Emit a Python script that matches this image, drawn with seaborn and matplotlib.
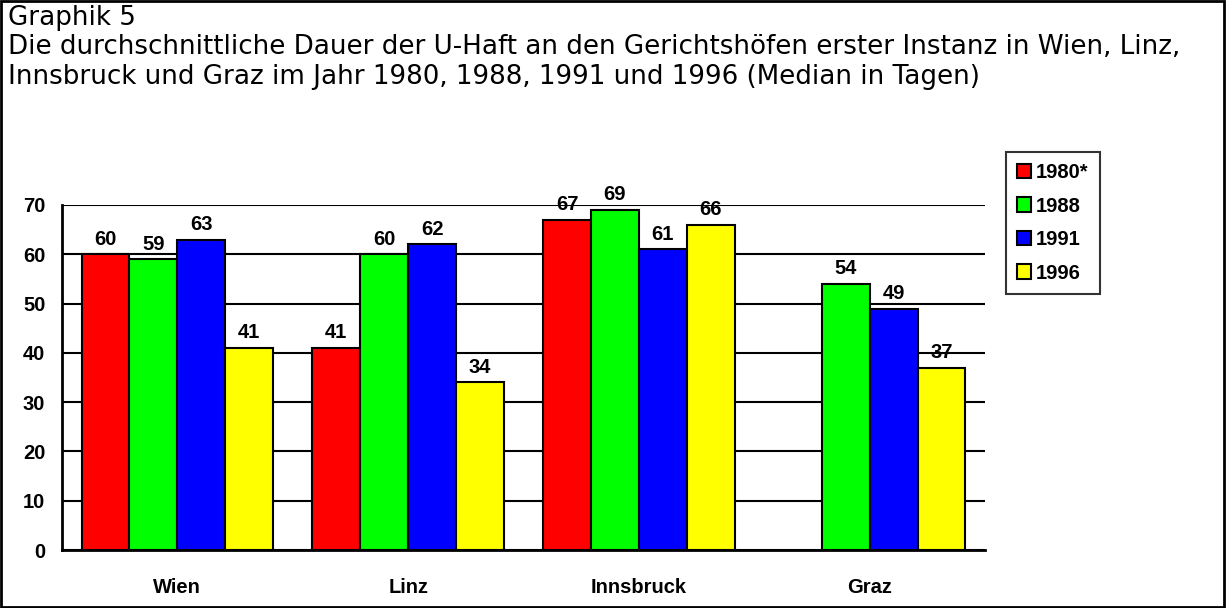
import numpy as np
import pandas as pd
import seaborn as sns
from matplotlib import pyplot as plt
from matplotlib.patches import Rectangle
from matplotlib.ticker import FixedLocator

sns.set_style("white", rc={"text.color": "black", "xtick.color": "black",
                           "ytick.color": "black", "axes.labelcolor": "black"})
plt.rcParams['font.family'] = ['Liberation Sans', 'DejaVu Sans']

# Daten aus der Graphik
orte = ["Wien", "Linz", "Innsbruck", "Graz"]
jahre = ["1980*", "1988", "1991", "1996"]
w1980 = [60, 41, 67, np.nan]
w1988 = [59, 60, 69, 54]
w1991 = [63, 62, 61, 49]
w1996 = [41, 34, 66, 37]
farben = ["#ff0000", "#00ff00", "#0000ff", "#ffff00"]

df = pd.DataFrame({
    "Ort": orte * 4,
    "Jahr": [j for j in jahre for _ in orte],
    "Tage": w1980 + w1988 + w1991 + w1996,
})

fig = plt.figure(figsize=(12.26, 6.08), dpi=100)
ax = fig.add_axes([62 / 1226, 1 - 550 / 608, (985 - 62) / 1226, (550 - 205) / 608])

sns.barplot(data=df, x="Ort", y="Tage", hue="Jahr", hue_order=jahre,
            palette=farben, width=0.83, saturation=1, edgecolor="black",
            linewidth=1.5, ax=ax, zorder=3)

for cont in ax.containers:
    ax.bar_label(cont, fmt="%.0f", padding=4, fontsize=14.5, fontweight="bold",
                 color="black")

ax.set_ylim(0, 70)
ax.set_xlim(-0.5, 3.5)
ax.set_yticks(range(0, 71, 10))
ax.yaxis.grid(True, color="black", linewidth=1.5)
ax.set_axisbelow(True)
ax.set_xlabel("")
ax.set_ylabel("")

ax.xaxis.set_minor_locator(FixedLocator([-0.5, 0.5, 1.5, 2.5, 3.5]))
ax.tick_params(axis="x", which="major", length=0, pad=20)
ax.tick_params(axis="x", which="minor", direction="inout", length=10, width=1.5)
ax.tick_params(axis="y", direction="out", length=5, width=1.5, pad=7)
for lab in ax.get_xticklabels() + ax.get_yticklabels():
    lab.set_fontsize(14.5)
    lab.set_fontweight("bold")

for s in ["top", "right"]:
    ax.spines[s].set_visible(False)
for s in ["left", "bottom"]:
    ax.spines[s].set_color("black")
    ax.spines[s].set_linewidth(2)

ax.get_legend().remove()
handles, labels = ax.get_legend_handles_labels()
leg = fig.legend(handles[:4], labels[:4], loc="upper left",
                 bbox_to_anchor=(1006 / 1226, 1 - 152 / 608),
                 frameon=True, fancybox=False, edgecolor="black",
                 handlelength=0.7, handleheight=0.7, handletextpad=0.25,
                 labelspacing=0.72, borderpad=0.55, borderaxespad=0,
                 prop={"size": 14.5, "weight": "bold"})
leg.get_frame().set_linewidth(1.5)

titel = ["Graphik 5",
         "Die durchschnittliche Dauer der U-Haft an den Gerichtshöfen erster Instanz in Wien, Linz,",
         "Innsbruck und Graz im Jahr 1980, 1988, 1991 und 1996 (Median in Tagen)"]
for t, y in zip(titel, [18, 47, 77]):
    fig.text(8 / 1226, 1 - y / 608, t, va="center", ha="left",
             fontsize=18.8, family=["DejaVu Sans"])

fig.patches.append(Rectangle((0.001, 0.002), 0.997, 0.996, transform=fig.transFigure,
                             fill=False, edgecolor="black", linewidth=2))

fig.savefig("out.png", dpi=100)
